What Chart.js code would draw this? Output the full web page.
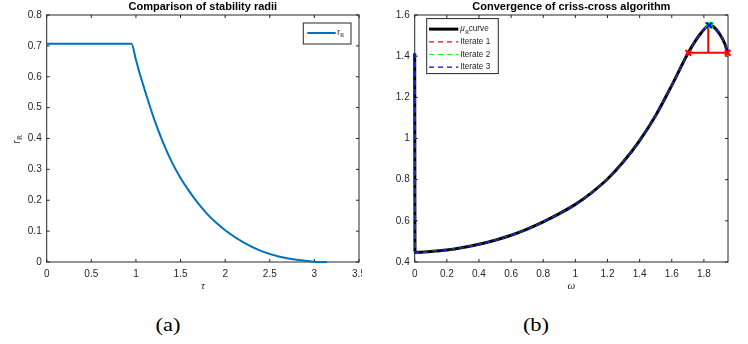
<!DOCTYPE html>
<html>
<head>
<meta charset="utf-8">
<script src="https://cdn.jsdelivr.net/npm/chart.js@4.4.0/dist/chart.umd.min.js"></script>
<style>
  html, body { margin: 0; padding: 0; background: #fff; }
  body { width: 748px; height: 344px; position: relative; overflow: hidden; }
  #left { position: absolute; left: 0; top: 0; }
  #right { position: absolute; left: 374px; top: 0; }
  .cap {
    position: absolute; top: 316px; line-height: 18px; height: 18px;
    font-family: 'Liberation Serif', 'Times New Roman', serif; font-size: 18px; color: #000;
    transform: translateX(-50%) scaleX(1.25);
  }
</style>
</head>
<body>
<canvas id="left" width="362" height="300"></canvas>
<canvas id="right" width="374" height="300"></canvas>
<div class="cap" style="left:168px">(a)</div>
<div class="cap" style="left:536px">(b)</div>
<script>
// (a) stability radius r_R against tau
var tau = [0, 0.95, 1.0, 1.05, 1.1, 1.2, 1.3, 1.4, 1.5, 1.6, 1.7, 1.8, 1.9, 2.0, 2.2, 2.4, 2.6, 2.8, 3.0, 3.14];
var rR  = [0.707, 0.707, 0.655, 0.603, 0.556, 0.466, 0.39, 0.325, 0.272, 0.228, 0.189, 0.155, 0.127, 0.103, 0.064, 0.036, 0.018, 0.007, 0.001, 0];

// (b) mu_R curve against omega
var omega = [0, 0.002, 0.1, 0.2, 0.3, 0.4, 0.5, 0.6, 0.7, 0.8, 0.9, 1.0, 1.1, 1.2, 1.3, 1.4, 1.5, 1.6, 1.7, 1.75, 1.78, 1.81, 1.833, 1.86, 1.9, 1.93, 1.948];
var muR   = [1.414, 0.447, 0.451, 0.458, 0.47, 0.486, 0.506, 0.53, 0.56, 0.595, 0.635, 0.68, 0.736, 0.803, 0.888, 0.99, 1.112, 1.258, 1.413, 1.478, 1.51, 1.538, 1.55, 1.543, 1.505, 1.46, 1.416];

// criss-cross iterates
var it1Omega = [1.703, 1.948];
var it1Level = [1.416, 1.416];
var it1MidOmega = [1.827, 1.827];
var it1Mid = [1.416, 1.55];
var it2Omega = [1.826, 1.840];
var it2Level = [1.55, 1.55];
var it3Omega = [1.833];
var it3Level = [1.55];

var FONT = "'Liberation Sans', Arial, Helvetica, sans-serif";
var AXIS = '#262626';
Chart.defaults.font.family = FONT;
Chart.defaults.color = AXIS;

function pts(xs, ys) {
    return xs.map(function (x, i) { return { x: x, y: ys[i] }; });
}

function fmt(v) {
    return String(parseFloat(Number(v).toFixed(2)));
}

// draw text pieces (normal / italic / subscript)
function drawParts(ctx, parts, x, y, size) {
    parts.forEach(function (p) {
        var s = p.sub ? size * 0.7 : size;
        ctx.font = (p.italic ? 'italic ' : '') + s + 'px ' + FONT;
        ctx.fillText(p.t, x, y + (p.sub ? size * 0.35 : 0));
        x += ctx.measureText(p.t).width;
    });
    return x;
}

// matlab-like box, inward ticks, title, legend
function decor(cfg) {
    return {
        id: 'decor',
        beforeDatasetsDraw: function (chart) {
            var a = chart.chartArea, ctx = chart.ctx;
            var xs = chart.scales.x, ys = chart.scales.y;
            ctx.save();
            ctx.strokeStyle = AXIS;
            ctx.lineWidth = 1;
            ctx.strokeRect(a.left, a.top, a.right - a.left, a.bottom - a.top);
            ctx.beginPath();
            xs.ticks.forEach(function (t) {
                var px = xs.getPixelForValue(t.value);
                ctx.moveTo(px, a.bottom); ctx.lineTo(px, a.bottom - 3);
                ctx.moveTo(px, a.top); ctx.lineTo(px, a.top + 3);
            });
            ys.ticks.forEach(function (t) {
                var py = ys.getPixelForValue(t.value);
                ctx.moveTo(a.left, py); ctx.lineTo(a.left + 3, py);
                ctx.moveTo(a.right, py); ctx.lineTo(a.right - 3, py);
            });
            ctx.stroke();
            ctx.fillStyle = '#000';
            ctx.font = 'bold 11px ' + FONT;
            ctx.textAlign = 'center';
            ctx.textBaseline = 'middle';
            ctx.fillText(cfg.title, (a.left + a.right) / 2, 7);
            if (cfg.yTitle) {
                ctx.translate(cfg.yTitleX, (a.top + a.bottom) / 2);
                ctx.rotate(-Math.PI / 2);
                ctx.textAlign = 'left';
                ctx.fillStyle = AXIS;
                drawParts(ctx, cfg.yTitle, -5, 0, 10);
            }
            ctx.restore();
        },
        afterDraw: function (chart) {
            var a = chart.chartArea, ctx = chart.ctx, lg = cfg.legend;
            var bx = lg.side === 'right' ? a.right - lg.dx - lg.w : a.left + lg.dx;
            var by = a.top + lg.dy;
            ctx.save();
            ctx.fillStyle = '#fff';
            ctx.fillRect(bx, by, lg.w, lg.h);
            ctx.strokeStyle = AXIS;
            ctx.lineWidth = 1;
            ctx.strokeRect(bx, by, lg.w, lg.h);
            lg.rows.forEach(function (r, i) {
                var y = by + lg.y0 + i * lg.step;
                ctx.beginPath();
                ctx.strokeStyle = r.color;
                ctx.lineWidth = r.width;
                ctx.setLineDash(r.dash || []);
                ctx.moveTo(bx + lg.lx0, y);
                ctx.lineTo(bx + lg.lx1, y);
                ctx.stroke();
                ctx.setLineDash([]);
                ctx.fillStyle = AXIS;
                ctx.textAlign = 'left';
                ctx.textBaseline = 'middle';
                drawParts(ctx, r.label, bx + lg.tx, y, 8.2);
            });
            ctx.restore();
        }
    };
}

function xAxis(min, max, step, title, h) {
    return {
        type: 'linear', min: min, max: max,
        ticks: { stepSize: step, includeBounds: false, padding: 6, font: { size: 10 }, callback: fmt, maxRotation: 0, autoSkip: false },
        grid: { display: false, drawTicks: false }, border: { display: false },
        title: { display: true, text: title, color: AXIS, font: { family: "'Liberation Serif', serif", style: 'italic', size: 11 }, padding: { top: 0, bottom: 7 } },
        afterFit: function (s) { s.height = h; s.paddingLeft = 0; s.paddingRight = 0; }
    };
}

function yAxis(min, max, step, w) {
    return {
        type: 'linear', min: min, max: max,
        ticks: { stepSize: step, padding: 5, font: { size: 10 }, callback: fmt, autoSkip: false },
        grid: { display: false, drawTicks: false }, border: { display: false },
        afterFit: function (s) { s.width = w; s.paddingTop = 0; s.paddingBottom = 0; }
    };
}

new Chart(document.getElementById('left'), {
    type: 'scatter',
    data: {
        datasets: [{
            data: pts(tau, rR),
            showLine: true,
            borderColor: '#0072BD',
            borderWidth: 2,
            pointRadius: 0,
            cubicInterpolationMode: 'monotone',
            clip: false
        }]
    },
    options: {
        responsive: false,
        animation: false,
        layout: { padding: { top: 15, right: 3, left: 0, bottom: 0 } },
        plugins: { legend: { display: false }, tooltip: { enabled: false } },
        scales: {
            x: xAxis(0, 3.5, 0.5, 'τ', 38),
            y: yAxis(0, 0.8, 0.1, 46.7)
        }
    },
    plugins: [decor({
        title: 'Comparison of stability radii',
        yTitle: [{ t: 'r' }, { t: 'ℝ', sub: true }],
        yTitleX: 17,
        legend: {
            side: 'right', dx: 8, dy: 8, w: 47.7, h: 21, y0: 10, step: 12,
            lx0: 4, lx1: 32.4, tx: 34,
            rows: [{ color: '#0072BD', width: 2, label: [{ t: 'r' }, { t: 'ℝ', sub: true }] }]
        }
    })]
});

var curveSets = [
    { label: 'curve', color: '#000000', width: 3, dash: [], order: 10 },
    { label: 'Iterate 1', color: '#FF0000', width: 1.2, dash: [5, 4], order: 9 },
    { label: 'Iterate 2', color: '#00FF00', width: 1.2, dash: [5, 4], order: 8 },
    { label: 'Iterate 3', color: '#0000FF', width: 1.2, dash: [5, 4], order: 7 }
];

var rightSets = curveSets.map(function (c) {
    return {
        label: c.label, data: pts(omega, muR), showLine: true,
        borderColor: c.color, borderWidth: c.width, borderDash: c.dash,
        pointRadius: 0, cubicInterpolationMode: 'monotone', clip: false, order: c.order
    };
});

function markSet(xs, ys, color, order, radius) {
    return {
        data: pts(xs, ys), showLine: true, borderColor: color, borderWidth: 2,
        pointStyle: 'crossRot', pointRadius: radius, pointBorderColor: color, pointBorderWidth: 2,
        clip: false, order: order
    };
}

rightSets.push(markSet(it1Omega, it1Level, '#FF0000', 4, 4));
rightSets.push(markSet(it1MidOmega, it1Mid, '#FF0000', 4, 0));
rightSets.push(markSet(it2Omega, it2Level, '#00FF00', 3, 4));
rightSets.push(markSet(it3Omega, it3Level, '#0000FF', 2, 4));

new Chart(document.getElementById('right'), {
    type: 'scatter',
    data: { datasets: rightSets },
    options: {
        responsive: false,
        animation: false,
        layout: { padding: { top: 15, right: 20, left: 0, bottom: 0 } },
        plugins: { legend: { display: false }, tooltip: { enabled: false } },
        scales: {
            x: xAxis(0, 1.95, 0.2, 'ω', 38),
            y: yAxis(0.4, 1.6, 0.2, 40.7)
        }
    },
    plugins: [decor({
        title: 'Convergence of criss-cross algorithm',
        legend: {
            side: 'left', dx: 12, dy: 3.6, w: 71.6, h: 55, y0: 10.5, step: 12.7,
            lx0: 2.3, lx1: 31.6, tx: 33.5,
            rows: curveSets.map(function (c, i) {
                return {
                    color: c.color, width: i === 0 ? 3 : 1.2, dash: c.dash,
                    label: i === 0 ? [{ t: 'μ', italic: true }, { t: 'ℝ', sub: true }, { t: 'curve' }] : [{ t: c.label }]
                };
            })
        }
    })]
});
</script>
</body>
</html>
